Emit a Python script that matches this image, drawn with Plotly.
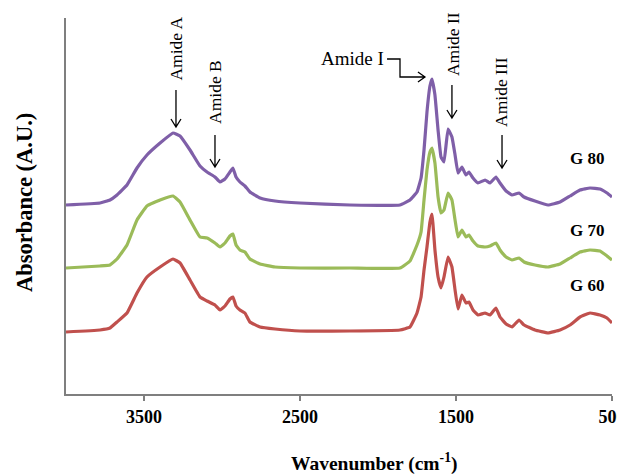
import plotly.graph_objects as go

# Wavenumber grid (cm^-1)
wavenumber = [4000, 3782, 3718, 3673, 3609, 3545, 3481, 3397, 3314, 3269,
              3205, 3141, 3096, 3045, 3013, 2981, 2949, 2930, 2910, 2885,
              2853, 2821, 2756, 2660, 2500, 2180, 1859, 1795, 1750, 1724,
              1705, 1686, 1667, 1654, 1635, 1615, 1596, 1577, 1551, 1526,
              1506, 1487, 1462, 1436, 1417, 1391, 1359, 1314, 1282, 1244,
              1218, 1179, 1141, 1096, 1064, 994, 910, 833, 769, 705,
              641, 577, 532, 500]

g80 = [1.89, 1.91, 1.94, 1.99, 2.09, 2.26, 2.39, 2.51, 2.61, 2.58,
       2.44, 2.28, 2.22, 2.17, 2.12, 2.15, 2.22, 2.26, 2.17, 2.12,
       2.08, 2.02, 1.96, 1.93, 1.91, 1.89, 1.89, 1.94, 2.02, 2.16,
       2.44, 2.82, 3.08, 3.15, 2.99, 2.64, 2.37, 2.32, 2.65, 2.57,
       2.39, 2.21, 2.27, 2.19, 2.22, 2.16, 2.11, 2.14, 2.11, 2.17,
       2.11, 2.03, 1.99, 2.01, 1.97, 1.93, 1.89, 1.92, 1.98, 2.04,
       2.06, 2.05, 2.01, 1.97]

g70 = [1.26, 1.28, 1.29, 1.35, 1.49, 1.74, 1.88, 1.94, 1.98, 1.92,
       1.74, 1.57, 1.56, 1.51, 1.47, 1.51, 1.58, 1.60, 1.49, 1.44,
       1.42, 1.35, 1.30, 1.27, 1.26, 1.26, 1.26, 1.33, 1.49, 1.62,
       1.94, 2.24, 2.42, 2.46, 2.31, 1.97, 1.81, 1.84, 2.01, 1.94,
       1.74, 1.57, 1.64, 1.57, 1.59, 1.53, 1.48, 1.47, 1.48, 1.51,
       1.44, 1.37, 1.34, 1.36, 1.32, 1.29, 1.27, 1.30, 1.36, 1.42,
       1.44, 1.43, 1.38, 1.34]

g60 = [0.62, 0.64, 0.66, 0.72, 0.81, 1.01, 1.17, 1.27, 1.35, 1.31,
       1.14, 0.97, 0.93, 0.89, 0.84, 0.88, 0.95, 0.97, 0.88, 0.84,
       0.81, 0.72, 0.67, 0.65, 0.63, 0.63, 0.64, 0.67, 0.81, 0.97,
       1.24, 1.47, 1.72, 1.80, 1.44, 1.17, 1.06, 1.17, 1.37, 1.27,
       1.04, 0.85, 0.99, 0.91, 0.92, 0.84, 0.79, 0.81, 0.79, 0.86,
       0.77, 0.70, 0.67, 0.74, 0.69, 0.64, 0.61, 0.64, 0.69, 0.77,
       0.81, 0.79, 0.76, 0.71]

series_names = ["G 60", "G 70", "G 80"]
series_colors = ["#C0504D", "#9BBB59", "#7F5FA8"]
series_values = [g60, g70, g80]
label_pos = [1.09, 1.64, 2.36]

x_ticks = [3500, 2500, 1500, 500]

SERIF = "Liberation Serif, Times New Roman, serif"

fig = go.Figure()
for name, col, vals in zip(series_names, series_colors, series_values):
    fig.add_trace(go.Scatter(x=wavenumber, y=vals, mode="lines", name=name,
                             line=dict(color=col, width=3.2, shape="spline", smoothing=0.3),
                             showlegend=False))

annotations = []
for name, yv in zip(series_names, label_pos):
    annotations.append(dict(x=660, y=yv, text=name, showarrow=False,
                            font=dict(family=SERIF, size=17, color="black", weight="bold"),
                            xanchor="center", yanchor="middle"))

# band labels (vertical)
bands = [("Amide A", 3301, 3.455), ("Amide B", 3045, 3.02),
         ("Amide II", 1519, 3.50), ("Amide III", 1212, 3.02)]
for txt, xv, yv in bands:
    annotations.append(dict(x=xv, y=yv, text=txt, showarrow=False, textangle=-90,
                            font=dict(family=SERIF, size=17.5, color="black"),
                            xanchor="center", yanchor="middle"))
annotations.append(dict(x=1948, y=3.36, text="Amide I", showarrow=False,
                        font=dict(family=SERIF, size=19, color="black"),
                        xanchor="right", yanchor="middle"))

# axis titles as paper annotations
annotations.append(dict(xref="paper", yref="paper", x=0.564, y=-0.181,
                        text="Wavenumber (cm<sup>-1</sup>)", showarrow=False,
                        font=dict(family=SERIF, size=19.5, color="black", weight="bold"),
                        xanchor="center", yanchor="middle"))
annotations.append(dict(xref="paper", yref="paper", x=-0.075, y=0.508,
                        text="Absorbance (A.U.)", showarrow=False, textangle=-90,
                        font=dict(family=SERIF, size=22.5, color="black", weight="bold"),
                        xanchor="center", yanchor="middle"))

shapes = []
line_style = dict(color="black", width=1.3)
# down arrows: (x, y_top, y_tip)
down_arrows = [(3295, 3.04, 2.67), (3045, 2.59, 2.27), (1526, 3.09, 2.76), (1205, 2.59, 2.26)]
for xv, yt, yb in down_arrows:
    shapes.append(dict(type="path", xref="x", yref="y",
                       path=f"M {xv},{yt} L {xv},{yb} M {xv+32},{yb+0.08} L {xv},{yb} L {xv-32},{yb+0.08}",
                       line=line_style))
# Amide I connector
shapes.append(dict(type="path", xref="x", yref="y",
                   path="M 1942,3.35 L 1859,3.35 L 1859,3.17 L 1699,3.17 M 1744,3.22 L 1699,3.17 L 1744,3.12",
                   line=line_style))

fig.update_layout(
    width=617, height=466,
    margin=dict(l=58, r=13, t=10, b=80, autoexpand=False),
    paper_bgcolor="white", plot_bgcolor="white",
    annotations=annotations, shapes=shapes,
    font=dict(family=SERIF, color="black"),
)
fig.update_xaxes(range=[4000, 500], tickvals=x_ticks, ticktext=[str(t) for t in x_ticks],
                 showgrid=False, zeroline=False, showline=True, linecolor="#7f7f7f", linewidth=2,
                 ticks="outside", ticklen=5, tickcolor="#7f7f7f", tickwidth=1.5, automargin=False,
                 ticklabeloverflow="allow",
                 tickfont=dict(family=SERIF, size=18, color="black", weight="bold"))
fig.update_yaxes(range=[0, 3.76], showgrid=False, zeroline=False, showline=True, automargin=False,
                 linecolor="#7f7f7f", linewidth=2, showticklabels=False, ticks="")

fig.write_html("out.html")
